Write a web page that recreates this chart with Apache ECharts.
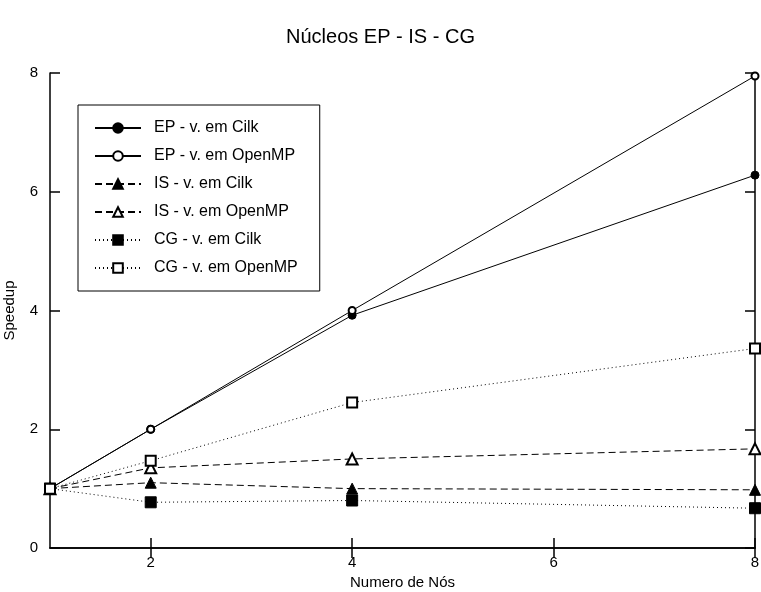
<!DOCTYPE html>
<html>
<head>
<meta charset="utf-8">
<script src="https://cdn.jsdelivr.net/npm/echarts@6/dist/echarts.min.js"></script>
<style>
  html, body { margin: 0; padding: 0; background: #fff; }
  #chart { width: 761px; height: 592px; }
</style>
</head>
<body>
<div id="chart"></div>
<script>
// nós (eixo x) e speedups
var nodes = [1, 2, 4, 8];
var epCilk = [1, 2.0, 3.92, 6.28];
var epOpenMP = [1, 2.0, 4.0, 7.95];
var isCilk = [1, 1.1, 1.0, 0.98];
var isOpenMP = [1, 1.35, 1.5, 1.67];
var cgCilk = [1, 0.77, 0.8, 0.67];
var cgOpenMP = [1, 1.47, 2.45, 3.36];
var xTicks = [2, 4, 6, 8];

var chart = echarts.init(document.getElementById('chart'));
var font = 'Liberation Sans, Arial, sans-serif';

function pairs(vals) {
    return nodes.map(function (n, i) { return [n, vals[i]]; });
}

function serie(name, vals, symbol, size, lineType) {
    return {
        name: name,
        type: 'line',
        data: pairs(vals),
        symbol: symbol,
        symbolSize: size,
        showSymbol: true,
        clip: false,
        itemStyle: { color: '#000', borderColor: '#000', borderWidth: 1 },
        lineStyle: { color: '#000', width: 1, type: lineType },
        z: 3
    };
}

var option = {
    animation: false,
    backgroundColor: '#fff',
    title: {
        text: 'Núcleos EP - IS - CG',
        left: 'center',
        top: 22,
        textStyle: { fontFamily: font, fontSize: 20, fontWeight: 'normal', color: '#000' }
    },
    legend: {
        orient: 'vertical',
        left: 78,
        top: 105,
        padding: [14, 22, 14, 16],
        itemGap: 10,
        itemWidth: 46,
        itemHeight: 12,
        borderColor: '#000',
        borderWidth: 1,
        textStyle: { fontFamily: font, fontSize: 16, lineHeight: 18, color: '#000', padding: [0, 0, 0, 8] },
        data: ['EP - v. em Cilk', 'EP - v. em OpenMP', 'IS - v. em Cilk',
               'IS - v. em OpenMP', 'CG - v. em Cilk', 'CG - v. em OpenMP']
    },
    grid: { left: 50, right: 6, top: 73, bottom: 44, outerBoundsMode: 'none', containLabel: false },
    xAxis: [{
        type: 'value',
        min: 1,
        max: 8,
        name: 'Numero de Nós',
        nameLocation: 'middle',
        nameGap: 24,
        nameTextStyle: { fontFamily: font, fontSize: 15, color: '#000' },
        axisLine: { lineStyle: { color: '#000', width: 1.5 } },
        axisTick: { inside: true, length: 10, customValues: xTicks, lineStyle: { color: '#000', width: 1.5 } },
        axisLabel: { customValues: xTicks, fontFamily: font, fontSize: 15, color: '#000', margin: 7 },
        splitLine: { show: false }
    }, {
        type: 'value',
        min: 1,
        max: 8,
        position: 'top',
        axisLine: { lineStyle: { color: '#000', width: 1.5 } },
        axisTick: { inside: true, length: 10, customValues: xTicks, lineStyle: { color: '#000', width: 1.5 } },
        axisLabel: { show: false },
        splitLine: { show: false }
    }],
    yAxis: [{
        type: 'value',
        min: 0,
        max: 8,
        interval: 2,
        name: 'Speedup',
        nameLocation: 'middle',
        nameGap: 33,
        nameTextStyle: { fontFamily: font, fontSize: 15, color: '#000' },
        axisLine: { show: true, lineStyle: { color: '#000', width: 1.5 } },
        axisTick: { show: true, inside: true, length: 10, lineStyle: { color: '#000', width: 1.5 } },
        axisLabel: { fontFamily: font, fontSize: 15, color: '#000', margin: 12 },
        splitLine: { show: false }
    }, {
        type: 'value',
        min: 0,
        max: 8,
        interval: 2,
        position: 'right',
        axisLine: { show: true, lineStyle: { color: '#000', width: 1.5 } },
        axisTick: { show: true, inside: true, length: 10, lineStyle: { color: '#000', width: 1.5 } },
        axisLabel: { show: false },
        splitLine: { show: false }
    }],
    series: [
        serie('EP - v. em Cilk', epCilk, 'circle', 8, 'solid'),
        serie('EP - v. em OpenMP', epOpenMP, 'emptyCircle', 7, 'solid'),
        serie('IS - v. em Cilk', isCilk, 'triangle', 11, [7, 4]),
        serie('IS - v. em OpenMP', isOpenMP, 'emptyTriangle', 11, [7, 4]),
        serie('CG - v. em Cilk', cgCilk, 'rect', 11, [1, 3]),
        serie('CG - v. em OpenMP', cgOpenMP, 'emptyRect', 10, [1, 3])
    ]
};

chart.setOption(option);
</script>
</body>
</html>
